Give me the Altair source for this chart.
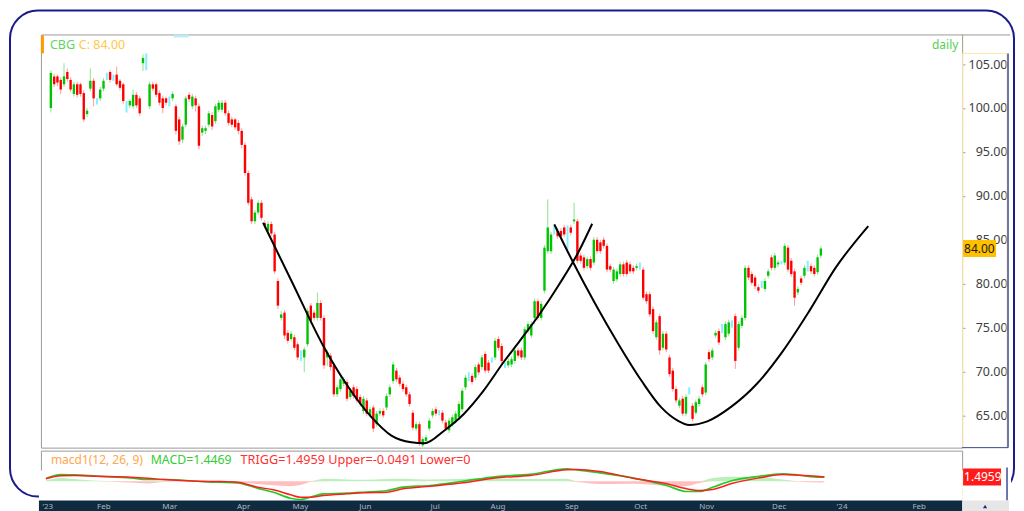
import altair as alt
import pandas as pd

# ---------------- data ----------------
OPEN = [
100.0,103.6,103.6,103.2,102.7,104.1,103.2,101.6,102.7,102.7,
101.7,99.3,102.2,103.1,100.8,101.1,102.2,103.6,104.1,103.5,
103.8,103.1,102.7,100.2,100.3,100.2,101.5,101.1,105.1,105.4,
100.2,102.7,102.7,101.7,101.1,101.1,100.8,101.1,100.2,98.7,
96.4,98.1,101.5,100.2,101.1,100.2,97.2,97.4,98.1,99.2,
98.5,99.8,99.8,100.6,99.4,98.7,98.7,98.3,97.4,95.8,
92.6,89.6,87.1,88.1,89.2,86.9,86.0,86.8,85.6,80.3,
76.1,76.7,74.4,73.7,73.9,73.1,71.8,71.6,73.1,77.5,
76.7,76.1,77.8,76.1,71.6,71.8,70.7,67.4,68.0,68.6,
68.8,67.1,68.2,68.0,67.1,65.5,66.7,65.0,65.9,64.0,
65.2,65.5,65.9,67.4,68.9,70.1,69.3,68.6,68.2,67.4,
65.3,63.5,64.0,61.6,62.1,63.5,65.0,65.7,65.3,65.3,
64.2,63.3,64.0,64.4,64.8,65.7,68.2,69.4,69.5,69.3,
70.8,70.5,72.0,71.0,71.3,71.6,73.7,72.9,70.7,70.7,
70.8,71.2,72.4,72.4,71.6,74.6,74.1,76.1,78.0,76.1,
79.2,83.7,83.7,86.1,86.0,86.0,86.4,85.8,86.4,87.1,
87.1,83.2,83.0,82.0,82.8,82.4,85.0,84.7,85.0,84.3,
82.0,80.3,80.5,81.1,82.2,82.4,82.2,81.8,81.8,82.0,
81.6,78.8,78.8,77.1,73.9,76.3,72.7,74.3,71.6,70.1,
68.0,66.1,66.9,65.2,67.8,66.1,65.3,66.3,68.2,67.6,
72.2,71.6,74.1,74.6,74.9,73.9,74.3,75.4,76.3,72.7,
75.2,76.1,81.8,81.1,80.7,79.6,79.9,79.4,80.9,83.0,
81.8,82.2,82.4,82.4,84.1,82.6,81.4,79.0,80.6,80.9,
82.0,82.0,81.8,81.3,83.2]

HIGH = [
104.3,103.9,103.8,103.5,105.1,104.5,103.5,103.0,103.0,102.9,
102.0,100.0,104.5,103.4,101.1,102.4,103.4,104.0,104.3,103.8,
104.7,103.3,102.9,100.8,101.0,102.1,101.8,101.4,106.1,106.2,
103.0,103.0,102.9,102.0,101.4,101.3,101.3,101.9,100.5,99.0,
98.2,101.4,101.8,101.6,101.4,100.5,98.0,98.0,99.7,99.5,
100.5,100.9,100.9,100.9,99.7,99.0,98.9,98.6,97.7,96.1,
92.9,89.9,88.4,89.5,89.5,87.2,87.1,87.1,85.9,80.6,
76.9,77.0,74.7,74.6,74.2,73.4,72.4,72.8,77.2,77.8,
77.0,79.0,78.1,76.4,72.5,72.1,71.0,68.5,69.4,69.4,
69.1,68.1,68.5,68.3,67.4,67.2,67.0,66.0,66.2,65.5,
65.8,65.8,67.5,68.5,71.1,70.4,69.6,68.9,68.5,67.7,
65.6,64.3,64.3,62.6,62.8,64.7,65.8,66.0,65.6,65.6,
64.5,64.7,65.1,65.5,66.6,68.1,69.6,69.9,69.8,70.8,
71.1,71.9,72.3,71.3,71.6,73.8,74.0,73.2,71.0,71.5,
71.7,72.7,72.7,72.7,75.1,75.7,75.7,78.3,78.3,78.0,
84.4,89.6,85.9,86.6,86.3,86.3,86.7,86.6,86.7,89.2,
87.4,83.5,83.3,83.1,83.1,85.3,85.3,85.0,85.3,84.6,
82.3,81.9,81.7,82.5,82.5,82.7,82.5,82.1,82.3,82.4,
81.9,79.1,79.1,77.4,75.9,76.6,74.6,74.6,71.9,70.4,
68.3,67.0,67.2,67.4,68.2,66.4,66.8,67.2,68.5,71.1,
72.5,72.7,74.7,74.9,75.4,75.7,75.9,75.8,76.6,75.7,
76.4,82.1,82.1,81.4,81.0,79.9,80.3,80.6,81.7,83.3,
83.5,82.7,82.6,84.6,84.4,82.9,81.7,79.7,80.9,82.1,
82.6,82.3,82.1,83.3,84.3]

LOW = [
99.5,102.4,102.5,101.6,102.4,103.0,101.8,101.3,101.2,101.3,
98.4,99.0,101.9,100.2,100.4,100.8,101.9,103.2,102.9,103.1,
102.5,102.0,100.5,99.5,100.0,99.9,100.0,99.1,104.2,104.3,
99.9,101.9,101.2,100.3,99.4,100.3,100.2,100.8,97.0,95.8,
96.0,97.8,100.7,99.9,99.6,95.3,96.8,97.0,97.8,97.5,
98.2,99.5,99.5,99.1,98.0,97.8,97.5,97.0,95.4,92.3,
88.9,86.8,86.8,87.8,87.2,86.3,85.7,85.4,81.1,77.1,
75.8,73.7,73.2,73.4,72.4,71.3,71.2,69.9,72.8,75.4,
75.8,75.8,75.8,70.3,70.6,70.1,67.1,67.1,67.7,68.3,
66.6,66.8,66.9,66.4,66.0,65.2,64.9,64.7,63.1,63.7,
64.9,64.7,65.6,67.1,68.6,68.8,68.3,67.7,67.1,66.0,
63.3,63.2,61.5,61.4,61.8,63.2,64.7,64.9,65.0,64.1,
63.2,63.0,63.7,64.1,64.5,65.4,67.9,68.9,68.5,69.0,
69.6,70.2,69.8,69.8,71.0,71.3,72.4,70.9,70.4,70.4,
70.5,70.9,71.5,71.3,71.3,74.3,73.8,75.4,75.8,75.8,
78.9,83.4,83.4,85.6,85.1,85.1,85.3,83.9,85.5,86.8,
82.3,82.3,81.5,81.7,81.5,82.1,83.4,83.4,84.0,81.3,
81.3,80.0,80.2,80.8,80.8,80.8,81.1,81.1,81.5,81.6,
78.1,77.7,76.2,74.3,73.6,71.9,72.4,72.2,69.4,67.7,
66.4,65.8,64.9,64.9,67.4,64.3,65.0,66.0,67.1,67.3,
71.1,71.3,73.8,73.0,74.4,73.6,74.0,75.0,70.3,72.4,
74.9,75.8,80.4,79.8,79.4,78.9,79.5,79.1,80.6,81.5,
81.5,81.9,82.2,82.1,81.3,80.8,77.5,78.7,79.8,80.6,
81.4,81.1,80.8,81.0,82.9]

CLOSE = [
104.0,102.7,102.9,102.1,103.6,103.3,102.1,102.7,101.5,101.6,
98.7,99.7,103.1,101.1,100.8,102.1,103.1,103.6,103.2,103.5,
102.7,102.3,100.8,100.2,100.8,101.5,100.3,99.4,105.7,105.4,
102.7,102.2,101.5,100.6,100.0,100.6,100.8,101.6,97.4,96.2,
97.9,101.1,101.0,101.3,100.3,95.7,97.7,97.7,99.4,97.9,
100.2,100.6,100.6,99.4,98.3,98.1,97.8,97.4,95.8,92.6,
89.2,87.1,88.1,89.2,87.5,86.6,86.8,85.7,81.4,77.5,
76.5,74.1,73.5,74.3,72.7,71.6,71.8,72.5,76.9,75.8,
76.1,77.8,76.1,70.7,72.2,70.5,67.4,68.2,69.1,69.1,
66.9,67.8,67.2,66.7,66.3,66.9,65.2,65.7,63.5,65.2,
65.5,65.0,67.2,68.2,70.8,69.1,68.6,68.0,67.4,66.3,
63.6,64.0,61.8,62.3,62.5,64.4,65.5,65.2,65.3,64.4,
63.5,64.4,64.8,65.2,66.3,67.8,69.3,69.4,68.8,70.5,
69.9,71.6,70.1,70.1,71.3,73.5,72.7,71.2,70.7,71.2,
71.4,72.4,71.8,71.6,74.8,75.4,75.4,78.0,76.1,77.7,
84.1,86.4,85.6,86.1,85.4,85.4,85.6,85.8,85.8,87.3,
82.6,82.6,81.8,82.8,81.8,85.0,83.7,83.7,84.3,81.6,
81.6,81.6,81.4,82.2,81.1,81.1,81.4,81.4,82.0,82.0,
78.4,78.0,76.5,74.6,75.6,72.4,74.3,72.5,69.7,68.0,
66.7,66.7,65.2,67.1,67.8,64.6,66.5,66.9,67.4,70.8,
71.4,72.4,74.4,73.3,74.9,75.4,75.6,75.4,71.2,75.4,
76.1,81.8,80.7,80.1,79.7,79.2,79.9,80.3,81.4,81.8,
83.2,82.4,82.4,84.3,81.6,81.1,78.4,79.4,80.1,81.8,
82.0,81.4,81.1,83.0,84.0]

MONTH_LABELS = ["'23", "Feb", "Mar", "Apr", "May", "Jun", "Jul", "Aug",
                "Sep", "Oct", "Nov", "Dec", "'24", "Feb"]
MONTH_POS = [0.5, 17.4, 37.2, 59.4, 76.5, 96.0, 117.0, 135.9,
             158.1, 178.8, 198.6, 220.4, 239.3, 262.5]

PRICE_TICKS = [65, 70, 75, 80, 85, 90, 95, 100, 105]

# hand-drawn cup curves (bar index, price)
CURVE1_X = [64.5, 73.5, 82.5, 90.5, 97.5, 103.5, 109.5, 113.5, 119.5,
            125.5, 131.5, 137.5, 142.5, 148.5, 154.5, 160.5, 164.5]
CURVE1_Y = [86.93, 80.02, 73.11, 68.18, 64.77, 62.69, 61.93, 61.82, 63.26,
            65.16, 67.81, 71.02, 73.49, 76.52, 79.93, 83.72, 86.82]
CURVE2_X = [153.0, 158.5, 165.5, 172.5, 179.5, 185.5, 190.5, 194.0,
            199.5, 206.5, 214.5, 222.5, 230.5, 238.5, 248.4]
CURVE2_Y = [86.75, 82.58, 77.66, 73.11, 68.94, 65.91, 64.40, 63.91,
            64.32, 65.91, 68.57, 72.35, 76.90, 81.82, 86.56]

# MACD panel (bar index, values)
MACD_X = [0, 4.5, 8.4, 15.6, 25.5, 30.6, 35.4, 45.6, 51.6, 57.6,
          63.6, 68.4, 73.5, 76.5, 79.5, 83.4, 90.6, 95.4, 102.6, 107.4,
          115.5, 125.4, 135.6, 145.5, 156.6, 159.6, 166.5, 176.4, 186.6, 192.6,
          196.5, 200.4, 206.4, 214.5, 221.4, 226.5, 232.5, 234]
MACD_LINE = [0.98, 2.43, 2.32, 1.81, 1.23, 0.62, 0.62, 0.0, -0.36, -0.58,
             -2.54, -3.99, -6.16, -6.63, -5.80, -4.57, -4.35, -3.99, -3.37, -2.17,
             -1.56, 0.0, 1.70, 2.5, 4.49, 4.13, 3.04, 1.23, -1.56, -3.73,
             -3.73, -2.17, 0.25, 1.81, 2.68, 2.17, 1.45, 1.4469]
TRIGG_LINE = [0.87, 1.96, 2.07, 1.81, 1.45, 1.09, 0.62, 0.0, -0.11, -0.36,
              -2.17, -3.12, -4.93, -5.80, -5.80, -5.18, -4.57, -4.20, -3.99, -2.75,
              -1.81, -0.58, 1.23, 2.07, 4.13, 4.24, 3.51, 1.09, -0.94, -2.75,
              -3.37, -3.01, -0.72, 1.23, 2.43, 2.17, 1.70, 1.4959]
HIST = [0.3, 1.2, 0.8, 0.2, -0.5, -0.8, -0.3, 0.1, -0.4, -0.5,
        -1.0, -1.5, -1.8, -1.4, -0.3, 0.9, 0.6, 0.5, 0.8, 0.9,
        0.6, 0.9, 1.0, 0.8, 0.9, -0.3, -1.0, -0.9, -1.6, -1.7,
        -0.6, 1.2, 1.6, 1.5, 0.6, -0.2, -0.5, -0.3]

SYMBOL = "CBG"
MACD_LAST = "1.4469"
TRIGG_LAST = 1.4959
UPPER = "-0.0491"
LOWER = "0"

# ---------------- tables ----------------
n = len(CLOSE)
candles = pd.DataFrame({"i": list(range(n)), "o": OPEN, "h": HIGH, "l": LOW, "c": CLOSE})
candles["dir"] = ["up" if c > o else ("down" if c < o else "flat") for o, c in zip(OPEN, CLOSE)]
flat = candles[candles["dir"] == "flat"]
last = candles.tail(1)

curves = pd.concat([
    pd.DataFrame({"curve": "a", "x": CURVE1_X, "p": CURVE1_Y}),
    pd.DataFrame({"curve": "b", "x": CURVE2_X, "p": CURVE2_Y}),
])

mdf = pd.DataFrame({"x": MACD_X, "m": MACD_LINE, "t": TRIGG_LINE, "hv": HIST})
mdf["hp"] = mdf["hv"].clip(lower=0)
mdf["hn"] = mdf["hv"].clip(upper=0)

months = pd.DataFrame({"lab": MONTH_LABELS, "pos": MONTH_POS})
one = pd.DataFrame({"k": [0]})
trig = pd.DataFrame({"v": [TRIGG_LAST]})

# ---------------- scales ----------------
W, H, HM = 923, 414, 61
XS = alt.Scale(domain=[-1.5, 275.4], nice=False, zero=False)
YS = alt.Scale(domain=[61.33, 108.375], nice=False, zero=False)
MS = alt.Scale(domain=[-10.98, 11.1], nice=False, zero=False)
dirs = ["up", "down", "flat"]
BODY = alt.Scale(domain=dirs, range=["#00c400", "#ff0000", "#7ff3ff"])
WICK = alt.Scale(domain=dirs, range=["#8fe38f", "#ff9c9c", "#8ff3ff"])

yax = alt.Axis(orient="right", values=PRICE_TICKS, format=".2f", labelAlign="right",
               labelBaseline="middle", labelPadding=42, tickSize=3, tickColor="#aaa",
               domainColor="#c9b07a", domainDash=[1, 2], labelColor="#404040",
               labelFontSize=12.5, grid=False, title=None)


def py(field):
    return alt.Y(field, scale=YS, axis=yax)


def px(field):
    return alt.X(field, scale=XS, axis=None)


# ---------------- price panel ----------------
frame = alt.Chart(one).mark_rect(fill="transparent", stroke="#1b1b8c", strokeWidth=2,
                                 cornerRadius=28).encode(
    x=alt.value(-31), x2=alt.value(975), y=alt.value(-24), y2=alt.value(463))
orange = alt.Chart(one).mark_rect(color="#ff9a00").encode(
    x=alt.value(0), x2=alt.value(3), y=alt.value(1), y2=alt.value(19))
bluebit = alt.Chart(one).mark_rect(color="#bdeaf6").encode(
    x=alt.value(133), x2=alt.value(148), y=alt.value(0), y2=alt.value(3))
axisbox = alt.Chart(one).mark_rect(fill="transparent", stroke="#ffe6a8", strokeWidth=1).encode(
    x=alt.value(923.5), x2=alt.value(968), y=alt.value(19), y2=alt.value(414))
navy_r = alt.Chart(one).mark_rule(color="#3b4b9b", strokeWidth=1.5).encode(
    x=alt.value(969), y=alt.value(19), y2=alt.value(414))
top_ext = alt.Chart(one).mark_rule(color="#9a9a9a").encode(
    x=alt.value(923), x2=alt.value(971), y=alt.value(0.5))
bot_navy = alt.Chart(one).mark_rule(color="#3b4b9b").encode(
    x=alt.value(923), x2=alt.value(969), y=alt.value(414))

wicks = alt.Chart(candles).mark_rule(strokeWidth=1).encode(
    x=px("i:Q"), y=py("l:Q"), y2="h:Q",
    stroke=alt.Stroke("dir:N", scale=WICK, legend=None))
flatw = alt.Chart(flat).mark_rule(strokeWidth=2, color="#86f0ff").encode(
    x=px("i:Q"), y=py("l:Q"), y2="h:Q")
bodies = alt.Chart(candles).mark_bar(width=2.4).encode(
    x=px("i:Q"), y=py("o:Q"), y2="c:Q",
    fill=alt.Fill("dir:N", scale=BODY, legend=None))
cups = alt.Chart(curves).mark_line(color="black", strokeWidth=2, interpolate="monotone").encode(
    x=px("x:Q"), y=py("p:Q"), detail="curve:N")
badge = alt.Chart(last).mark_tick(orient="vertical", thickness=33, size=17,
                                  color="#ffc000", opacity=1).encode(
    x=alt.value(940.5), y=py("c:Q"))
badge_t = alt.Chart(last).mark_text(align="left", baseline="middle", fontSize=12,
                                    color="#1a1a1a").encode(
    x=alt.value(925), y=py("c:Q"), text=alt.Text("c:Q", format=".2f"))
t_sym = alt.Chart(one).mark_text(align="left", baseline="middle", fontSize=12.5,
                                 color="#5fd65f").encode(
    x=alt.value(9), y=alt.value(11), text=alt.value(SYMBOL))
t_close = alt.Chart(last).mark_text(align="left", baseline="middle", fontSize=12.5,
                                    color="#ffc84a").encode(
    x=alt.value(38), y=alt.value(11), text=alt.Text("label:N")).transform_calculate(
    label="'C: ' + format(datum.c, '.2f')")
t_daily = alt.Chart(one).mark_text(align="center", baseline="middle", fontSize=12,
                                   color="#55d055").encode(
    x=alt.value(906), y=alt.value(11), text=alt.value("daily"))

price = alt.layer(frame, orange, bluebit, axisbox, navy_r, top_ext, bot_navy,
                  wicks, flatw, bodies, cups, badge, badge_t,
                  t_sym, t_close, t_daily).properties(width=W, height=H)

# ---------------- MACD panel ----------------
cover = alt.Chart(one).mark_rect(color="white").encode(
    x=alt.value(-2), x2=alt.value(972), y=alt.value(20), y2=alt.value(50))
hpos = alt.Chart(mdf).mark_area(color="#a6eaa6", opacity=0.75, interpolate="monotone").encode(
    x=px("x:Q"), y=alt.Y("hp:Q", scale=MS, axis=None), y2=alt.datum(0))
hneg = alt.Chart(mdf).mark_area(color="#ffaaaa", opacity=0.75, interpolate="monotone").encode(
    x=px("x:Q"), y=alt.Y("hn:Q", scale=MS, axis=None), y2=alt.datum(0))
mline = alt.Chart(mdf).mark_line(color="#27c927", strokeWidth=1.7, interpolate="monotone").encode(
    x=px("x:Q"), y=alt.Y("m:Q", scale=MS, axis=None))
tline = alt.Chart(mdf).mark_line(color="#ff1e1e", strokeWidth=1.5, interpolate="monotone").encode(
    x=px("x:Q"), y=alt.Y("t:Q", scale=MS, axis=None))
yel = alt.Chart(one).mark_rule(color="#f2d98c", strokeDash=[1, 2]).encode(
    x=alt.value(923.5), y=alt.value(17), y2=alt.value(50))
navy_m = alt.Chart(one).mark_rule(color="#3b4b9b", strokeWidth=1.5).encode(
    x=alt.value(968), y=alt.value(17), y2=alt.value(50))
tbadge = alt.Chart(trig).mark_tick(orient="vertical", thickness=38, size=17,
                                   color="#ff1a1a", opacity=1).encode(
    x=alt.value(943), y=alt.Y("v:Q", scale=MS, axis=None))
tbadge_t = alt.Chart(trig).mark_text(align="left", baseline="middle", fontSize=12,
                                     color="white").encode(
    x=alt.value(925), y=alt.Y("v:Q", scale=MS, axis=None),
    text=alt.Text("v:Q", format=".4f"))
t1 = alt.Chart(one).mark_text(align="left", baseline="middle", fontSize=12,
                              color="#ffa64d").encode(
    x=alt.value(10), y=alt.value(9), text=alt.value("macd1(12, 26, 9)"))
t2 = alt.Chart(one).mark_text(align="left", baseline="middle", fontSize=12.3,
                              color="#33cc33").encode(
    x=alt.value(110), y=alt.value(9), text=alt.value("MACD=" + MACD_LAST))
t3 = alt.Chart(one).mark_text(align="left", baseline="middle", fontSize=12.7,
                              color="#ff3030").encode(
    x=alt.value(200), y=alt.value(9),
    text=alt.value("TRIGG=%.4f Upper=%s Lower=%s" % (TRIGG_LAST, UPPER, LOWER)))
dbar = alt.Chart(one).mark_rect(color="#0f2b40").encode(
    x=alt.value(-2), x2=alt.value(923), y=alt.value(50), y2=alt.value(61))
dbar_r = alt.Chart(one).mark_rect(color="#e6e6e6").encode(
    x=alt.value(923), x2=alt.value(970), y=alt.value(50), y2=alt.value(61))
icon = alt.Chart(one).mark_point(shape="triangle-up", filled=True, color="#1b2f8f",
                                 size=18, opacity=1).encode(
    x=alt.value(946), y=alt.value(56))
mlabs = alt.Chart(months).mark_text(fontSize=8, color="#aab6c2", baseline="middle").encode(
    x=px("pos:Q"), y=alt.value(56), text="lab:N")

macd = alt.layer(cover, hpos, hneg, mline, tline, yel, navy_m, tbadge, tbadge_t,
                 t1, t2, t3, dbar, dbar_r, icon, mlabs).properties(width=W, height=HM)

chart = alt.vconcat(price, macd, spacing=3, bounds="flush", padding=0).configure(
    font="Noto Sans", background="white"
).configure_view(stroke="#9a9a9a", fill="white")

chart.save("out.html", embed_options={"renderer": "svg", "actions": False})
